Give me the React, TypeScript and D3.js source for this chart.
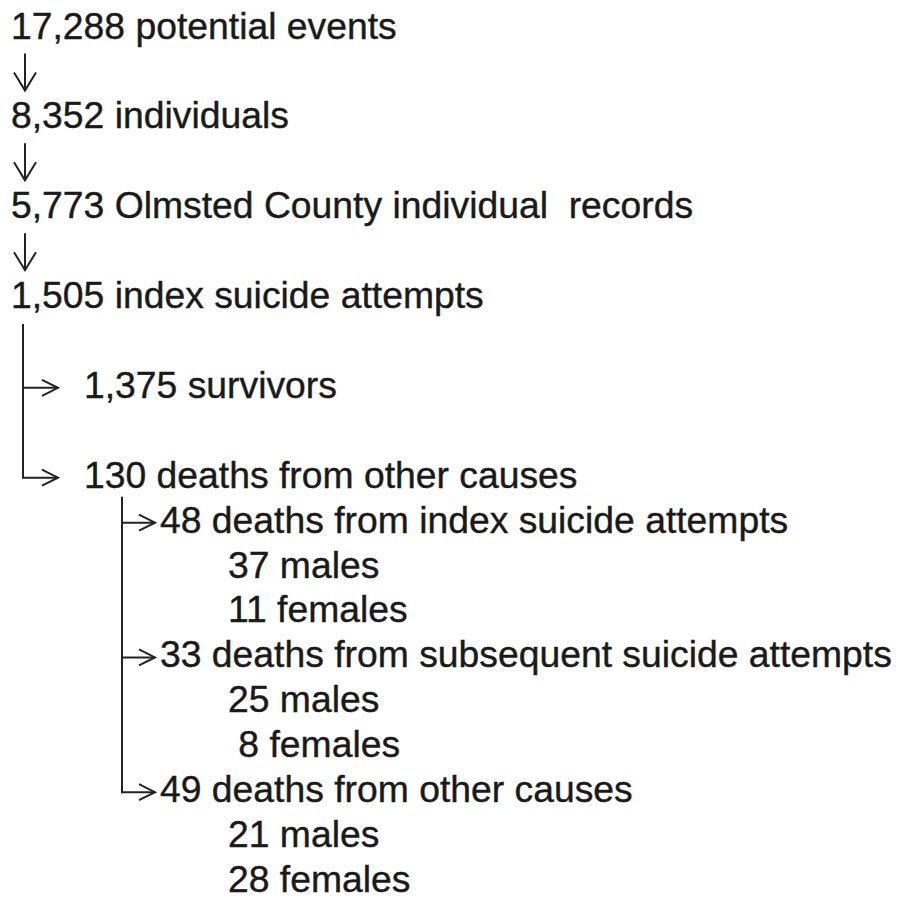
import React from "react";
import * as d3 from "d3";

// Flow nodes: label, row (vertical slot), indent level
const labels = [
  "17,288 potential events",
  "8,352 individuals",
  "5,773 Olmsted County individual  records",
  "1,505 index suicide attempts",
  "1,375 survivors",
  "130 deaths from other causes",
  "48 deaths from index suicide attempts",
  "37 males",
  "11 females",
  "33 deaths from subsequent suicide attempts",
  "25 males",
  " 8 females",
  "49 deaths from other causes",
  "21 males",
  "28 females",
];
const rows = [0, 2, 4, 6, 8, 10, 11, 12, 13, 14, 15, 16, 17, 18, 19];
const levels = [0, 0, 0, 0, 1, 1, 2, 3, 3, 2, 3, 3, 2, 3, 3];

// Down arrows (from row -> to row), level 0
const downArrows = [
  [0, 2],
  [2, 4],
  [4, 6],
];
// Branch trees: parent row, child rows
const treeParents = [6, 10];
const treeChildren = [
  [8, 10],
  [11, 14, 17],
];

export default function App() {
  const W = 900;
  const H = 901;
  const y = d3.scaleLinear().domain([0, 19]).range([38.5, 892]);
  const xText = d3.scaleOrdinal<number, number>().domain([0, 1, 2, 3]).range([11, 84, 160, 228]);
  const trunkX = [23, 122];
  const arrowEnd = [58, 155];
  const trunkTop = [16, 9];
  const stroke = "#222";
  const sw = 2;

  return (
    <svg
      width={W}
      height={H}
      viewBox={`0 0 ${W} ${H}`}
      style={{ position: "absolute", left: 0, top: 0, background: "#fff" }}
    >
      <rect width={W} height={H} fill="#fff" />
      {labels.map((t, i) => (
        <text
          key={i}
          x={xText(levels[i])}
          y={y(rows[i])}
          fontFamily="'Liberation Sans', Arial, sans-serif"
          fontSize={37.3}
          fill="#1a1a1a"
          stroke="#1a1a1a"
          strokeWidth={0.4}
          style={{ whiteSpace: "pre" }}
        >
          {t}
        </text>
      ))}
      {downArrows.map(([a], i) => {
        const cx = 25;
        const y0 = y(a) + 15;
        const y1 = y(a) + 52;
        return (
          <g key={"d" + i} stroke={stroke} strokeWidth={sw} fill="none">
            <line x1={cx} x2={cx} y1={y0} y2={y1} />
            <polyline points={`${cx - 11},${y1 - 18} ${cx},${y1} ${cx + 11},${y1 - 18}`} />
          </g>
        );
      })}
      {treeParents.map((p, k) => {
        const tx = trunkX[k];
        const kids = treeChildren[k];
        const top = y(p) + trunkTop[k];
        const bottom = y(kids[kids.length - 1]) - 10;
        const ex = arrowEnd[k];
        return (
          <g key={"t" + k} stroke={stroke} strokeWidth={sw} fill="none">
            <line x1={tx} x2={tx} y1={top} y2={bottom + 1} />
            {kids.map((c, j) => {
              const cy = y(c) - 10;
              return (
                <g key={j}>
                  <line x1={tx} x2={ex} y1={cy} y2={cy} />
                  <polyline points={`${ex - 16},${cy - 8} ${ex},${cy} ${ex - 16},${cy + 8}`} />
                </g>
              );
            })}
          </g>
        );
      })}
    </svg>
  );
}
